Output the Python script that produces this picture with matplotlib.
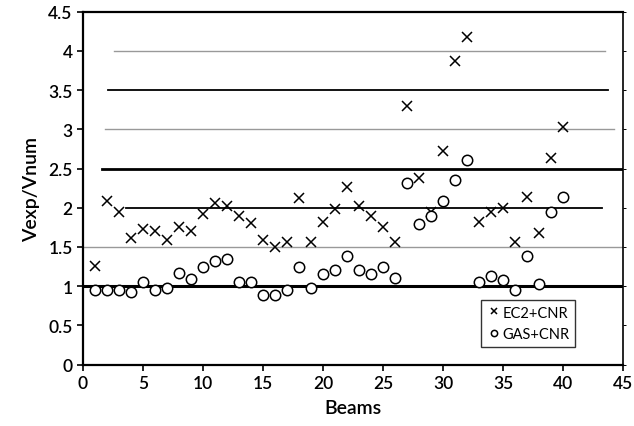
import numpy as np
import matplotlib.pyplot as plt

plt.rcParams['font.family'] = ['Lato', 'DejaVu Sans']

beams = np.arange(1, 41)

ec2_cnr = [1.26, 2.08, 1.94, 1.62, 1.73, 1.70, 1.59, 1.76, 1.70, 1.92,
           2.06, 2.02, 1.90, 1.80, 1.59, 1.50, 1.56, 2.12, 1.56, 1.82,
           1.98, 2.26, 2.02, 1.90, 1.76, 1.56, 3.30, 2.38, 1.94, 2.73,
           3.87, 4.18, 1.82, 1.94, 2.00, 1.56, 2.14, 1.68, 2.63, 3.03]

gas_cnr = [0.95, 0.95, 0.95, 0.93, 1.05, 0.95, 0.98, 1.17, 1.09, 1.25,
           1.32, 1.35, 1.05, 1.05, 0.89, 0.89, 0.95, 1.24, 0.98, 1.15,
           1.21, 1.39, 1.21, 1.15, 1.25, 1.10, 2.32, 1.79, 1.89, 2.09,
           2.36, 2.61, 1.05, 1.13, 1.08, 0.95, 1.39, 1.03, 1.94, 2.14]

# reference lines: level, start, end
line_levels = [1.0, 1.5, 2.0, 2.5, 3.0, 3.5, 4.0]
line_start = [0, 0, 3.6, 1.55, 1.8, 2.1, 2.6]
line_end = [45, 45, 43.2, 45, 44.2, 43.75, 43.5]
line_color = ['black', '#999999', 'black', 'black', '#999999', 'black', '#999999']
line_width = [2.2, 1.0, 1.3, 2.0, 1.0, 1.3, 1.0]

fig = plt.figure(figsize=(6.34, 4.27), dpi=100)
ax = fig.add_axes([0.131, 0.144, 0.852, 0.826])

for lv, x0, x1, c, lw in zip(line_levels, line_start, line_end, line_color, line_width):
    ax.plot([x0, x1], [lv, lv], '-', color=c, linewidth=lw, zorder=1)

ax.plot(beams, ec2_cnr, 'x', color='black', markersize=7.5, markeredgewidth=1.1,
        label='EC2+CNR', zorder=3)
ax.plot(beams, gas_cnr, 'o', color='black', markerfacecolor='white', markersize=7.5,
        markeredgewidth=1.1, label='GAS+CNR', zorder=3)

ax.set_xlim(0, 45)
ax.set_ylim(0, 4.5)
ax.set_xticks(np.arange(0, 46, 5))
ax.set_yticks(np.arange(0, 4.6, 0.5))
ax.set_yticklabels(['0', '0.5', '1', '1.5', '2', '2.5', '3', '3.5', '4', '4.5'])
ax.tick_params(direction='out', length=4, width=1.2, labelsize=12.5, colors='black')
ax.tick_params(axis='y', which='major', right=True)
for lbl in ax.get_xticklabels() + ax.get_yticklabels():
    lbl.set_fontweight('semibold')
for side in ['left', 'bottom', 'top']:
    ax.spines[side].set_linewidth(1.6)
ax.spines['right'].set_linewidth(1.2)
for t in ax.yaxis.get_major_ticks():
    t.tick2line.set_markersize(2)
    t.tick2line.set_markeredgewidth(0.7)
    t.tick2line.set_color('#777777')

ax.set_xlabel('Beams', fontsize=14, fontweight='semibold', labelpad=6)
ax.set_ylabel('Vexp/Vnum', fontsize=14, fontweight='semibold', labelpad=6)

leg = ax.legend(loc='lower right', bbox_to_anchor=(0.925, 0.03), fontsize=10.5,
                frameon=True, fancybox=False, edgecolor='black', markerscale=0.6,
                handletextpad=0.1, handlelength=1.0, borderpad=0.4, labelspacing=0.5)
leg.get_frame().set_linewidth(1.0)

plt.savefig('out.png', dpi=100)
